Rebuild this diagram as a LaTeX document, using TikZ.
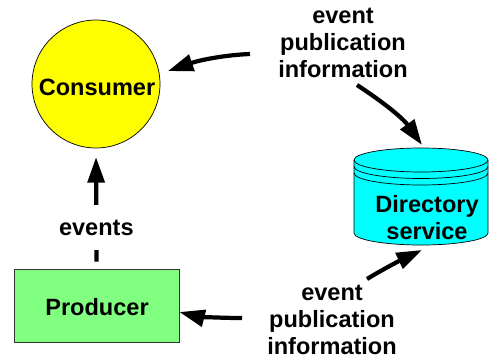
\documentclass[tikz,border=0pt]{standalone}
\usepackage{fontspec}
\setmainfont{Liberation Sans}
\usepackage{xcolor}
\usetikzlibrary{arrows.meta, positioning}

\definecolor{consfill}{HTML}{FFFF00}
\definecolor{prodfill}{HTML}{80FF80}
\definecolor{dirfill}{HTML}{00FFFF}

\begin{document}
\begin{tikzpicture}[x=0.02cm, y=-0.02cm,
    txt/.style={font=\fontsize{13.4}{15.4}\selectfont\bfseries, align=center},
    flow/.style={-{Triangle[length=14.5pt, width=9.5pt]}, line width=2.4pt},
    dirarc/.style={x radius=67, y radius=12}]
  \useasboundingbox (0,0) rectangle (489,358);
  % Knoten
  \node[circle, draw, fill=consfill, minimum size=2.56cm, inner sep=0pt] (cons) at (96,84) {};
  \node[txt] (conslbl) at (97,87) {Consumer};
  \node[rectangle, draw=black!80, fill=prodfill, minimum width=3.3cm, minimum height=1.46cm] (prod) at (96.5,305.5) {};
  \node[txt] (prodlbl) at (97,307) {Producer};
  % Zylinder
  \fill[dirfill] (354,160) -- (354,233) arc[start angle=180, end angle=0, dirarc]
    -- (488,160) -- cycle;
  \draw[fill=dirfill] (421,160) ellipse [dirarc];
  \draw (354,166.5) arc[start angle=180, end angle=0, dirarc];
  \draw (354,173) arc[start angle=180, end angle=0, dirarc];
  \draw (354,160) -- (354,233) arc[start angle=180, end angle=0, dirarc] -- (488,160);
  \node[txt] (dir) at (427,218) {Directory\\service};
  \coordinate (dirtop) at (422,145);
  \coordinate (dirbot) at (422,250);
  % Beschriftungen
  \node[txt] (pubtop) at (343,43) {event\\publication\\information};
  \node[txt] (pubbot) at (332,320) {event\\publication\\information};
  \coordinate (t1) at (250,54);
  \coordinate (t2) at (357,85);
  \coordinate (t3) at (367,279);
  \coordinate (t4) at (242,318);
  % Pfeile
  \draw[flow, shorten >=5pt] (t1) .. controls (225,55) and (200,60) .. (cons.9);
  \draw[flow] (t2) .. controls (380,100) and (402,117) .. (dirtop);
  \draw[flow] (t3) .. controls (385,268) and (405,258) .. (dirbot);
  \draw[flow] (t4) .. controls (215,318) and (195,316) .. (prod.east |- 0,312);
  \draw[flow, shorten <=4pt, shorten >=5pt] (prod.north) -- node[txt, pos=0.34, fill=white, inner ysep=8.5pt, inner xsep=2pt] (evlbl) {events} (cons.south);
\end{tikzpicture}
\end{document}
